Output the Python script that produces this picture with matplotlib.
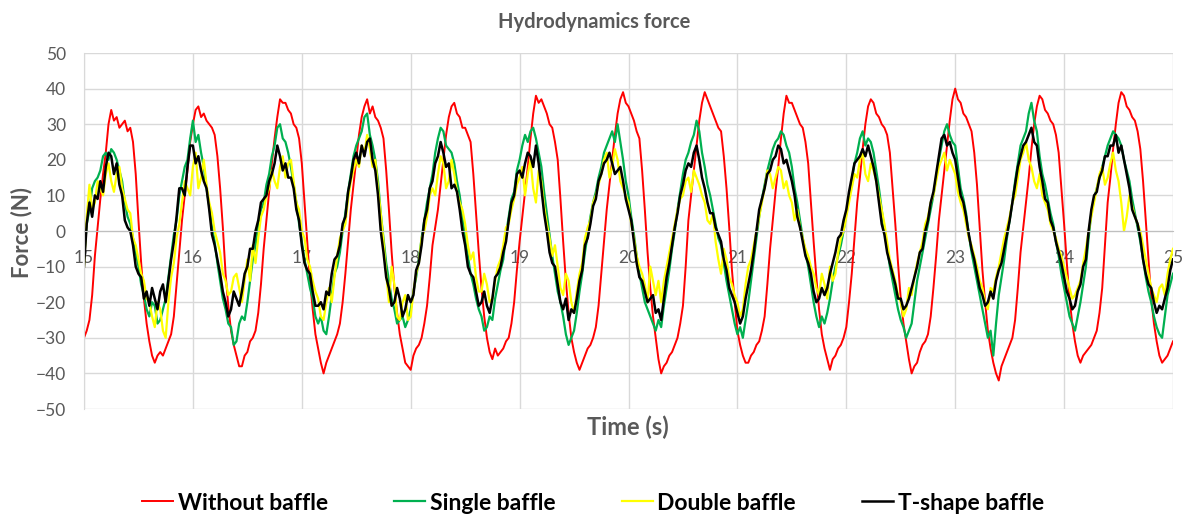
import numpy as np
import matplotlib
matplotlib.use("Agg")
from matplotlib import pyplot as plt

# one sample every 0.025 s (N)
t_start = 15.0
t_step = 0.025

without_baffle = [
    -30, -28, -25, -18, -7, 1, 9, 16, 22, 30, 34, 31, 32, 29, 30, 31, 28, 29, 25, 16,
    3, -9, -19, -26, -31, -35, -37, -35, -34, -35, -33, -31, -29, -24, -15, -6, 3, 10, 17, 25,
    30, 34, 35, 32, 33, 31, 30, 29, 27, 21, 12, 1, -12, -21, -28, -32, -35, -38, -38, -35,
    -34, -31, -30, -28, -23, -15, -5, 3, 11, 19, 26, 32, 37, 36, 36, 34, 33, 30, 29, 26,
    19, 8, -3, -14, -22, -29, -33, -37, -40, -37, -35, -33, -31, -29, -26, -20, -12, -3, 6, 13,
    20, 27, 32, 35, 37, 33, 35, 32, 31, 29, 26, 17, 6, -6, -16, -23, -29, -33, -37, -38,
    -39, -35, -33, -32, -30, -26, -21, -13, -4, 1, 6, 13, 20, 27, 32, 35, 36, 33, 32, 29,
    29, 27, 25, 16, 5, -6, -16, -24, -30, -34, -36, -33, -35, -34, -33, -31, -30, -26, -20, -11,
    -3, 4, 11, 18, 26, 33, 38, 36, 37, 35, 33, 30, 29, 25, 20, 9, -3, -14, -23, -30,
    -34, -37, -39, -37, -35, -33, -32, -30, -27, -21, -12, -3, 6, 13, 20, 27, 33, 37, 39, 36,
    35, 33, 31, 28, 26, 17, 6, -6, -16, -24, -30, -36, -40, -38, -37, -35, -34, -32, -30, -26,
    -21, -10, 3, 10, 17, 24, 31, 36, 39, 37, 35, 33, 31, 29, 28, 21, 12, 1, -11, -20,
    -28, -32, -35, -37, -37, -35, -34, -32, -31, -28, -24, -15, -5, 3, 11, 18, 26, 33, 38, 36,
    36, 34, 32, 30, 29, 25, 19, 8, -3, -13, -22, -29, -33, -36, -39, -36, -35, -33, -32, -30,
    -27, -20, -12, -2, 8, 15, 23, 30, 35, 37, 36, 33, 32, 30, 29, 27, 22, 12, 2, -9,
    -19, -26, -31, -36, -40, -38, -37, -34, -32, -31, -29, -24, -16, -7, 3, 10, 17, 24, 31, 37,
    40, 37, 36, 33, 32, 30, 28, 22, 13, 1, -11, -20, -28, -33, -37, -40, -42, -38, -36, -34,
    -32, -30, -25, -16, -6, 1, 8, 15, 23, 30, 35, 38, 37, 34, 33, 31, 30, 27, 22, 12,
    2, -9, -19, -26, -31, -35, -37, -35, -34, -33, -32, -30, -28, -23, -16, -4, 8, 15, 23, 30,
    36, 39, 38, 35, 34, 32, 31, 28, 23, 14, 3, -8, -19, -26, -31, -35, -37, -36, -35, -33,
    -31,
]

single_baffle = [
    -8, 2, 6, 12, 14, 15, 17, 21, 22, 20, 23, 22, 20, 17, 14, 8, 4, 2, -2, -6,
    -10, -15, -18, -22, -24, -20, -21, -26, -25, -22, -19, -13, -7, -1, 3, 10, 14, 18, 20, 26,
    31, 25, 27, 22, 18, 12, 7, 1, -3, -9, -14, -19, -22, -26, -27, -32, -31, -26, -24, -25,
    -20, -14, -8, -4, 2, 6, 8, 13, 16, 21, 24, 29, 30, 26, 25, 22, 18, 13, 8, 2,
    -3, -8, -12, -16, -19, -24, -26, -24, -28, -29, -24, -18, -12, -10, -6, 0, 5, 11, 16, 21,
    24, 26, 28, 32, 33, 27, 24, 20, 14, 5, -2, -9, -14, -19, -22, -26, -25, -24, -27, -25,
    -22, -17, -13, -8, -2, 3, 8, 12, 16, 22, 26, 29, 28, 24, 23, 22, 19, 14, 10, 4,
    -2, -7, -12, -15, -19, -22, -24, -28, -27, -24, -25, -19, -15, -11, -8, -1, 4, 9, 11, 17,
    20, 24, 27, 25, 28, 29, 26, 22, 18, 11, 5, -1, -7, -12, -17, -20, -24, -29, -32, -30,
    -28, -23, -17, -12, -6, -1, 4, 8, 11, 15, 18, 22, 24, 26, 28, 25, 30, 25, 20, 14,
    10, 4, -1, -7, -12, -16, -20, -22, -24, -26, -28, -25, -27, -21, -16, -11, -5, 0, 6, 11,
    16, 20, 22, 25, 27, 31, 28, 22, 18, 13, 10, 6, 2, -2, -4, -9, -14, -18, -22, -26,
    -29, -27, -30, -25, -20, -14, -8, -2, 4, 9, 13, 17, 20, 23, 25, 26, 28, 27, 24, 22,
    18, 12, 8, 3, -2, -6, -10, -15, -20, -24, -27, -24, -26, -23, -19, -14, -10, -7, -4, 0,
    5, 10, 14, 19, 22, 26, 28, 24, 26, 25, 22, 17, 12, 6, 0, -5, -10, -14, -18, -22,
    -25, -27, -30, -28, -26, -20, -14, -10, -6, -2, 2, 6, 10, 15, 20, 24, 28, 30, 27, 25,
    24, 18, 12, 9, 5, -1, -6, -10, -14, -18, -22, -26, -30, -28, -35, -26, -18, -13, -8, -2,
    3, 8, 14, 19, 24, 26, 28, 33, 36, 31, 28, 21, 16, 13, 9, 5, 2, -3, -7, -12,
    -16, -20, -24, -26, -28, -24, -20, -15, -10, -2, 5, 9, 12, 15, 18, 21, 24, 26, 28, 27,
    26, 24, 20, 17, 14, 9, 5, 1, -3, -8, -13, -17, -20, -24, -27, -29, -30, -24, -18, -15,
    -12,
]

double_baffle = [
    -10, 4, 13, 6, 8, 14, 12, 10, 16, 19, 14, 11, 16, 18, 12, 9, 6, 5, -2, -4,
    -8, -12, -14, -19, -20, -24, -27, -20, -22, -28, -30, -20, -13, -9, -2, 2, 8, 14, 12, 10,
    18, 22, 12, 15, 20, 13, 8, 5, 0, -3, -6, -12, -14, -18, -17, -13, -12, -16, -20, -14,
    -8, -14, -4, -9, -2, 4, 6, 10, 12, 17, 14, 12, 18, 21, 15, 19, 20, 14, 8, 6,
    0, -2, -8, -10, -14, -17, -19, -24, -25, -20, -16, -20, -13, -7, -2, 0, 2, 9, 14, 17,
    20, 18, 24, 22, 27, 23, 18, 20, 12, 5, -3, -12, -20, -10, -15, -24, -25, -20, -18, -25,
    -24, -17, -12, -9, -2, 0, 4, 10, 12, 10, 16, 21, 19, 12, 14, 20, 16, 11, 8, 6,
    2, -4, -8, -6, -13, -17, -17, -12, -15, -20, -19, -14, -10, -8, -4, 1, 2, 6, 9, 13,
    15, 18, 10, 16, 20, 12, 8, 17, 14, 7, 2, -2, -7, -4, -10, -16, -18, -12, -14, -20,
    -23, -17, -12, -9, -2, 1, 3, 8, 10, 13, 16, 20, 22, 15, 18, 23, 20, 14, 12, 10,
    8, 2, -2, -7, -10, -12, -15, -20, -10, -14, -18, -14, -20, -14, -10, -6, -2, 2, 6, 9,
    10, 14, 15, 11, 17, 15, 13, 10, 8, 3, 2, 5, -3, -8, -12, -5, -8, -13, -15, -18,
    -20, -24, -22, -15, -10, -8, -4, 0, 4, 8, 12, 17, 16, 12, 15, 18, 17, 12, 14, 10,
    8, 3, 6, 1, -2, -5, -7, -10, -12, -16, -18, -12, -15, -19, -10, -14, -12, -6, -2, 0,
    4, 8, 12, 16, 15, 20, 22, 16, 14, 19, 17, 14, 10, 6, 2, -3, -8, -11, -14, -18,
    -20, -24, -22, -16, -18, -13, -9, -6, -3, 2, 4, 8, 10, 14, 18, 20, 22, 17, 20, 18,
    16, 11, 8, 6, 2, -2, -4, -7, -10, -14, -16, -20, -22, -16, -17, -13, -10, -6, -2, 1,
    4, 8, 10, 15, 20, 22, 25, 20, 18, 14, 12, 16, 10, 8, 6, 2, 0, -2, -5, -7,
    -10, -13, -16, -19, -18, -16, -14, -9, -5, 0, 4, 8, 12, 16, 18, 13, 15, 19, 22, 17,
    14, 8, 0, 4, 10, 7, 4, 2, 0, -4, -8, -12, -16, -18, -20, -16, -15, -18, -12, -8,
    -5,
]

t_shape_baffle = [
    -10, 2, 8, 4, 10, 9, 14, 11, 18, 22, 21, 16, 19, 13, 10, 3, 1, 0, -4, -10,
    -12, -13, -19, -17, -21, -16, -19, -22, -17, -15, -20, -14, -8, -3, 4, 12, 12, 10, 18, 24,
    24, 19, 21, 17, 14, 12, 6, -1, -4, -8, -12, -17, -20, -24, -22, -17, -19, -21, -17, -12,
    -10, -5, -5, 0, 3, 8, 9, 10, 14, 16, 19, 24, 21, 17, 19, 15, 15, 12, 6, 3,
    -4, -9, -11, -12, -17, -21, -21, -20, -22, -17, -18, -12, -8, -7, -4, 2, 4, 11, 15, 20,
    22, 19, 24, 21, 25, 26, 20, 17, 10, 0, -6, -13, -16, -21, -20, -16, -19, -24, -22, -18,
    -20, -18, -11, -9, -4, 3, 6, 12, 14, 19, 21, 25, 22, 18, 19, 12, 13, 11, 6, 0,
    -4, -10, -12, -13, -17, -21, -20, -17, -21, -23, -19, -13, -12, -10, -6, -3, 3, 8, 10, 16,
    17, 15, 19, 22, 21, 18, 24, 19, 12, 5, 0, -6, -9, -10, -15, -20, -22, -19, -25, -22,
    -23, -19, -14, -11, -4, -2, 2, 7, 9, 14, 16, 19, 20, 22, 19, 16, 17, 18, 14, 9,
    6, 3, -3, -9, -13, -14, -17, -20, -19, -18, -23, -22, -25, -19, -13, -9, -4, 1, 5, 10,
    13, 17, 19, 18, 22, 24, 20, 15, 12, 8, 5, 5, 1, -1, -3, -8, -11, -16, -18, -20,
    -23, -26, -24, -19, -15, -11, -6, 0, 6, 9, 12, 16, 17, 20, 21, 24, 23, 19, 20, 17,
    14, 10, 4, 1, -3, -7, -9, -12, -17, -20, -19, -16, -18, -16, -12, -9, -6, -2, -1, 3,
    6, 11, 15, 19, 20, 21, 23, 21, 24, 21, 18, 14, 8, 2, -1, -6, -9, -12, -15, -19,
    -19, -22, -21, -19, -16, -13, -10, -6, -5, 0, 3, 8, 11, 16, 21, 26, 27, 24, 25, 22,
    20, 15, 10, 8, 4, -1, -5, -8, -12, -16, -18, -21, -20, -17, -19, -14, -11, -9, -5, -1,
    3, 8, 13, 18, 21, 24, 25, 27, 29, 25, 24, 18, 14, 9, 8, 3, 1, -3, -6, -9,
    -13, -17, -19, -22, -21, -17, -15, -10, -8, 0, 6, 10, 11, 15, 17, 21, 21, 24, 24, 27,
    22, 24, 20, 16, 12, 6, 4, 2, -2, -8, -12, -15, -16, -20, -23, -21, -22, -19, -16, -11,
    -8,
]

series_names = ["Without baffle", "Single baffle", "Double baffle", "T-shape baffle"]
x_ticks = [15, 16, 17, 18, 19, 20, 21, 22, 23, 24, 25]
y_ticks = [-50, -40, -30, -20, -10, 0, 10, 20, 30, 40, 50]

time = t_start + t_step * np.arange(len(without_baffle))

plt.rcParams["font.family"] = ["Lato", "DejaVu Sans"]
grey = "#595959"

fig = plt.figure(figsize=(11.89, 5.17), dpi=100)
ax = fig.add_axes([84 / 1189, 1 - 409 / 517, (1173 - 84) / 1189, (409 - 53) / 517])

ax.plot(time, without_baffle, color="#ff0000", lw=1.4, label=series_names[0])
ax.plot(time, single_baffle, color="#00b050", lw=1.6, label=series_names[1])
ax.plot(time, double_baffle, color="#ffff00", lw=1.6, label=series_names[2])
ax.plot(time, t_shape_baffle, color="#000000", lw=1.8, label=series_names[3])

ax.set_xlim(15, 25)
ax.set_ylim(-50, 50)
ax.set_xticks(x_ticks)
ax.set_yticks(y_ticks)
ax.grid(True, color="#d9d9d9", lw=1)
ax.set_axisbelow(True)

# horizontal axis sits on the zero line, like Excel does
ax.spines["bottom"].set_position(("data", 0))
ax.spines["bottom"].set_color("#bfbfbf")
ax.spines["left"].set_color("#d9d9d9")
ax.spines["top"].set_visible(False)
ax.spines["right"].set_visible(False)
ax.tick_params(axis="both", length=0, labelsize=12.5, labelcolor=grey)
ax.tick_params(axis="x", pad=14)
ax.tick_params(axis="y", pad=13)

fig.text(0.5, 1 - 22 / 517, "Hydrodynamics force", ha="center", va="center",
         fontsize=14.5, fontweight="bold", color=grey)
fig.text(628 / 1189, 1 - 427 / 517, "Time (s)", ha="center", va="center",
         fontsize=17, fontweight="bold", color=grey)
fig.text(22 / 1189, 1 - 232 / 517, "Force (N)", ha="center", va="center",
         rotation=90, fontsize=16, fontweight="bold", color=grey)

fig.legend(loc="center", bbox_to_anchor=(593 / 1189, 1 - 503 / 517), ncol=4,
           frameon=False, handlelength=1.35, handletextpad=0.2,
           columnspacing=2.9, prop={"weight": "bold", "size": 16.5})

fig.savefig("out.png", dpi=100)
